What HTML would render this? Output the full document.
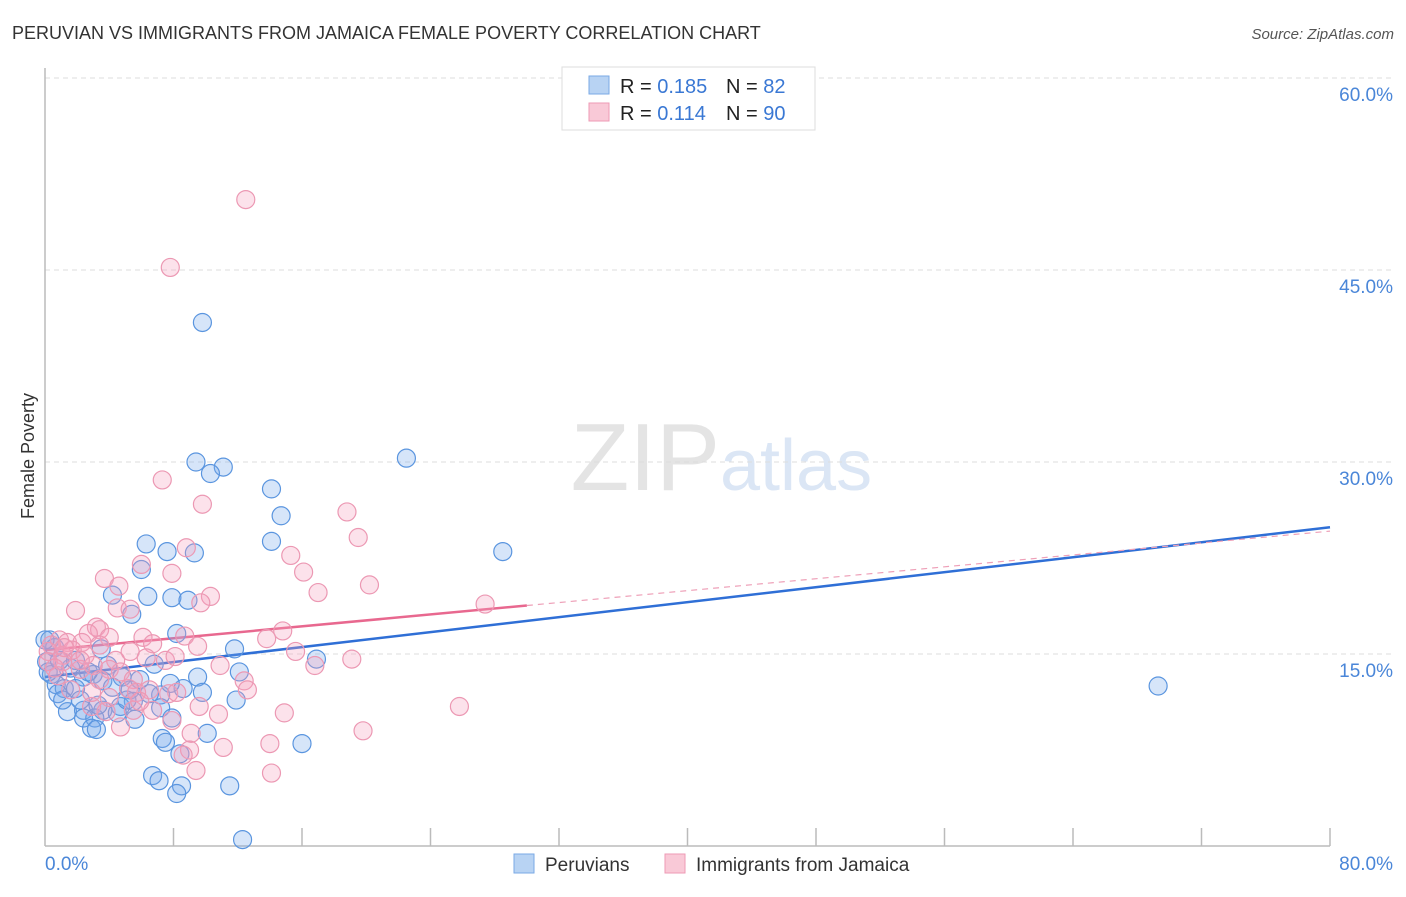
<!DOCTYPE html>
<html><head><meta charset="utf-8"><style>
body{margin:0;background:#fff;font-family:"Liberation Sans",sans-serif;}
svg text{font-family:"Liberation Sans",sans-serif;}
</style></head><body>
<svg id="chart" width="1406" height="892" xmlns="http://www.w3.org/2000/svg">
<text x="12" y="39" font-size="18" fill="#333">PERUVIAN VS IMMIGRANTS FROM JAMAICA FEMALE POVERTY CORRELATION CHART</text>
<text x="1394" y="39" font-size="15" fill="#555" font-style="italic" text-anchor="end">Source: ZipAtlas.com</text>
<text x="720" y="490" font-size="96" fill="#e4e4e4" text-anchor="end" font-family="Liberation Serif">ZIP</text>
<text x="720" y="490" font-size="72" fill="#dbe6f5">atlas</text>
<g id="grid"></g>
<g id="axes"></g>
<g id="trends"></g>
<g id="points"></g>
<text x="34" y="456" font-size="18" fill="#333" text-anchor="middle" transform="rotate(-90 34 456)">Female Poverty</text>
<g>
<rect x="562" y="67" width="253" height="63" fill="#fff" stroke="#ddd"/>
<rect x="589" y="76" width="20" height="18" fill="#b8d3f3" stroke="#7aaae6"/>
<rect x="589" y="103" width="20" height="18" fill="#f9c9d7" stroke="#ee9ab4"/>
<text x="620" y="93" font-size="20" fill="#222">R = <tspan fill="#3a78d4">0.185</tspan></text>
<text x="726" y="93" font-size="20" fill="#222">N = <tspan fill="#3a78d4"> 82</tspan></text>
<text x="620" y="120" font-size="20" fill="#222">R = <tspan fill="#3a78d4"> 0.114</tspan></text>
<text x="726" y="120" font-size="20" fill="#222">N = <tspan fill="#3a78d4">90</tspan></text>
</g>
<g>
<rect x="514" y="854" width="20" height="19" fill="#b8d3f3" stroke="#7aaae6"/>
<text x="545" y="871" font-size="19" fill="#333">Peruvians</text>
<rect x="665" y="854" width="20" height="19" fill="#f9c9d7" stroke="#ee9ab4"/>
<text x="696" y="871" font-size="19" fill="#333">Immigrants from Jamaica</text>
</g>
</svg>
<script>
const yTicks=[15,30,45,60];
const yTickLabels=["15.0%","30.0%","45.0%","60.0%"];
const xTickVals=[0,8,16,24,32,40,48,56,64,72,80];
const xEndLabels=["0.0%","80.0%"];
const blueX=[9.8,22.5,9.4,11.1,10.3,14.1,14.7,14.1,6.3,7.6,9.3,28.5,6.0,4.2,6.4,7.9,8.9,5.4,8.2,11.8,3.5,0.3,16.9,0.6,6.8,12.1,9.5,1.6,0.4,2.4,3.0,4.8,3.6,0.7,1.2,1.9,0.8,4.2,5.3,8.6,9.8,11.9,7.2,6.5,5.5,4.7,7.2,1.4,2.4,3.6,2.4,3.1,4.5,5.6,7.9,2.9,3.2,10.1,7.3,7.5,8.4,16.0,6.7,7.1,8.5,8.2,11.5,12.3,69.3,0.1,0.2,0.9,1.9,3.9,2.7,5.9,7.8,2.2,1.1,0.0,3.3,5.1];
const blueY=[40.9,30.3,30.0,29.6,29.1,27.9,25.8,23.8,23.6,23.0,22.9,23.0,21.6,19.6,19.5,19.4,19.2,18.1,16.6,15.4,15.4,16.1,14.6,15.5,14.2,13.6,13.2,13.9,13.4,13.2,13.4,13.2,12.9,12.6,12.3,12.3,11.9,12.4,12.2,12.3,12.0,11.4,11.8,11.9,11.3,10.9,10.8,10.5,10.6,10.6,10.0,10.0,10.4,9.9,10.0,9.2,9.1,8.8,8.4,8.1,7.2,8.0,5.5,5.1,4.7,4.1,4.7,0.5,12.5,14.4,13.6,14.5,14.5,14.1,13.6,13.0,12.7,11.4,11.4,16.1,11.0,11.4];
const pinkX=[12.5,7.8,7.3,9.8,18.8,19.5,8.8,6.0,15.3,16.1,7.9,3.7,4.6,17.0,20.2,10.3,1.9,9.7,4.5,5.3,3.2,3.4,4.0,2.7,0.9,1.4,2.3,0.4,0.2,1.1,1.7,2.5,1.1,5.3,6.1,6.7,8.7,9.5,13.8,14.8,15.6,16.8,19.1,27.4,4.4,6.3,7.5,8.1,10.9,4.0,4.7,3.0,2.2,3.4,5.2,5.5,5.7,6.5,7.7,8.2,12.4,12.6,10.8,9.6,7.9,9.1,6.7,5.5,3.8,2.9,4.7,9.0,11.1,14.0,14.1,9.4,8.6,14.9,19.8,25.8,0.2,0.6,0.8,1.6,2.9,4.0,5.9,2.2,3.4,1.2];
const pinkY=[50.5,45.2,28.6,26.7,26.1,24.1,23.3,22.0,22.7,21.4,21.3,20.9,20.3,19.8,20.4,19.5,18.4,19.0,18.6,18.5,17.1,16.9,16.3,16.6,16.1,15.9,15.9,15.7,15.2,14.9,15.3,14.9,14.4,15.2,16.3,15.8,16.4,15.6,16.2,16.8,15.2,14.1,14.6,18.9,14.5,14.7,14.5,14.8,14.1,13.8,13.6,14.1,13.8,13.0,12.3,13.0,12.0,12.2,11.9,12.0,12.9,12.2,10.3,10.9,9.8,8.8,10.6,10.6,10.5,10.9,9.3,7.5,7.7,8.0,5.7,5.9,7.1,10.4,9.0,10.9,14.4,13.9,13.3,12.2,12.0,11.6,11.3,14.5,15.7,15.5];
const blueTrend=[13.2,24.9];
const pinkTrend=[15.3,24.6];
const pinkSolidEnd=30;

const X0=45,X1=1330,Y0=846,Y60=78;
const xs=v=>X0+(X1-X0)*v/80;
const ys=v=>Y0-(Y0-Y60)*v/60;
const NS="http://www.w3.org/2000/svg";
function mk(tag,attrs,parent){const e=document.createElementNS(NS,tag);for(const k in attrs)e.setAttribute(k,attrs[k]);parent.appendChild(e);return e;}
const grid=document.getElementById('grid'),axes=document.getElementById('axes'),trends=document.getElementById('trends'),pts=document.getElementById('points');
yTicks.forEach((v,i)=>{
  const l=mk('line',{x1:X0,x2:1395,y1:ys(v),y2:ys(v),stroke:'#ddd','stroke-dasharray':'5,4'},grid);
  
  
  const t=mk('text',{x:1393,y:ys(v)+23,'font-size':19,fill:'#4a86d8','text-anchor':'end'},grid);
  t.textContent=yTickLabels[i];
  
  
});
const ya=mk('line',{x1:X0,x2:X0,y1:68,y2:Y0,stroke:'#bbb','stroke-width':1.5},axes);


const xa=mk('line',{x1:X0,x2:X1,y1:Y0,y2:Y0,stroke:'#bbb','stroke-width':1.5},axes);


xTickVals.slice(1).forEach(v=>{
  const t=mk('line',{x1:xs(v),x2:xs(v),y1:Y0,y2:Y0-18,stroke:'#bbb','stroke-width':1.5},axes);
  
  
});
const xl0=mk('text',{x:45,y:870,'font-size':19,fill:'#4a86d8'},axes);xl0.textContent=xEndLabels[0];


const xl1=mk('text',{x:1393,y:870,'font-size':19,fill:'#4a86d8','text-anchor':'end'},axes);xl1.textContent=xEndLabels[1];



function pLine(a,x){return a[0]+(a[1]-a[0])*x/80;}
const bt=mk('line',{x1:xs(0),y1:ys(blueTrend[0]),x2:xs(80),y2:ys(blueTrend[1]),stroke:'#2f6fd6','stroke-width':2.5},trends);


const pt=mk('line',{x1:xs(0),y1:ys(pinkTrend[0]),x2:xs(pinkSolidEnd),y2:ys(pLine(pinkTrend,pinkSolidEnd)),stroke:'#e8688f','stroke-width':2.5},trends);


const pd=mk('line',{x1:xs(pinkSolidEnd),y1:ys(pLine(pinkTrend,pinkSolidEnd)),x2:xs(80),y2:ys(pinkTrend[1]),stroke:'#eea0b8','stroke-width':1.2,'stroke-dasharray':'6,5'},trends);



blueX.forEach((x,i)=>{
  const c=mk('circle',{cx:xs(x),cy:ys(blueY[i]),r:9,fill:'rgba(120,170,235,0.3)',stroke:'#5a95df','stroke-width':1.2},pts);
  
  
});
pinkX.forEach((x,i)=>{
  const c=mk('circle',{cx:xs(x),cy:ys(pinkY[i]),r:9,fill:'rgba(245,160,190,0.3)',stroke:'#ec98b3','stroke-width':1.2},pts);
  
  
});
</script>
</body></html>
